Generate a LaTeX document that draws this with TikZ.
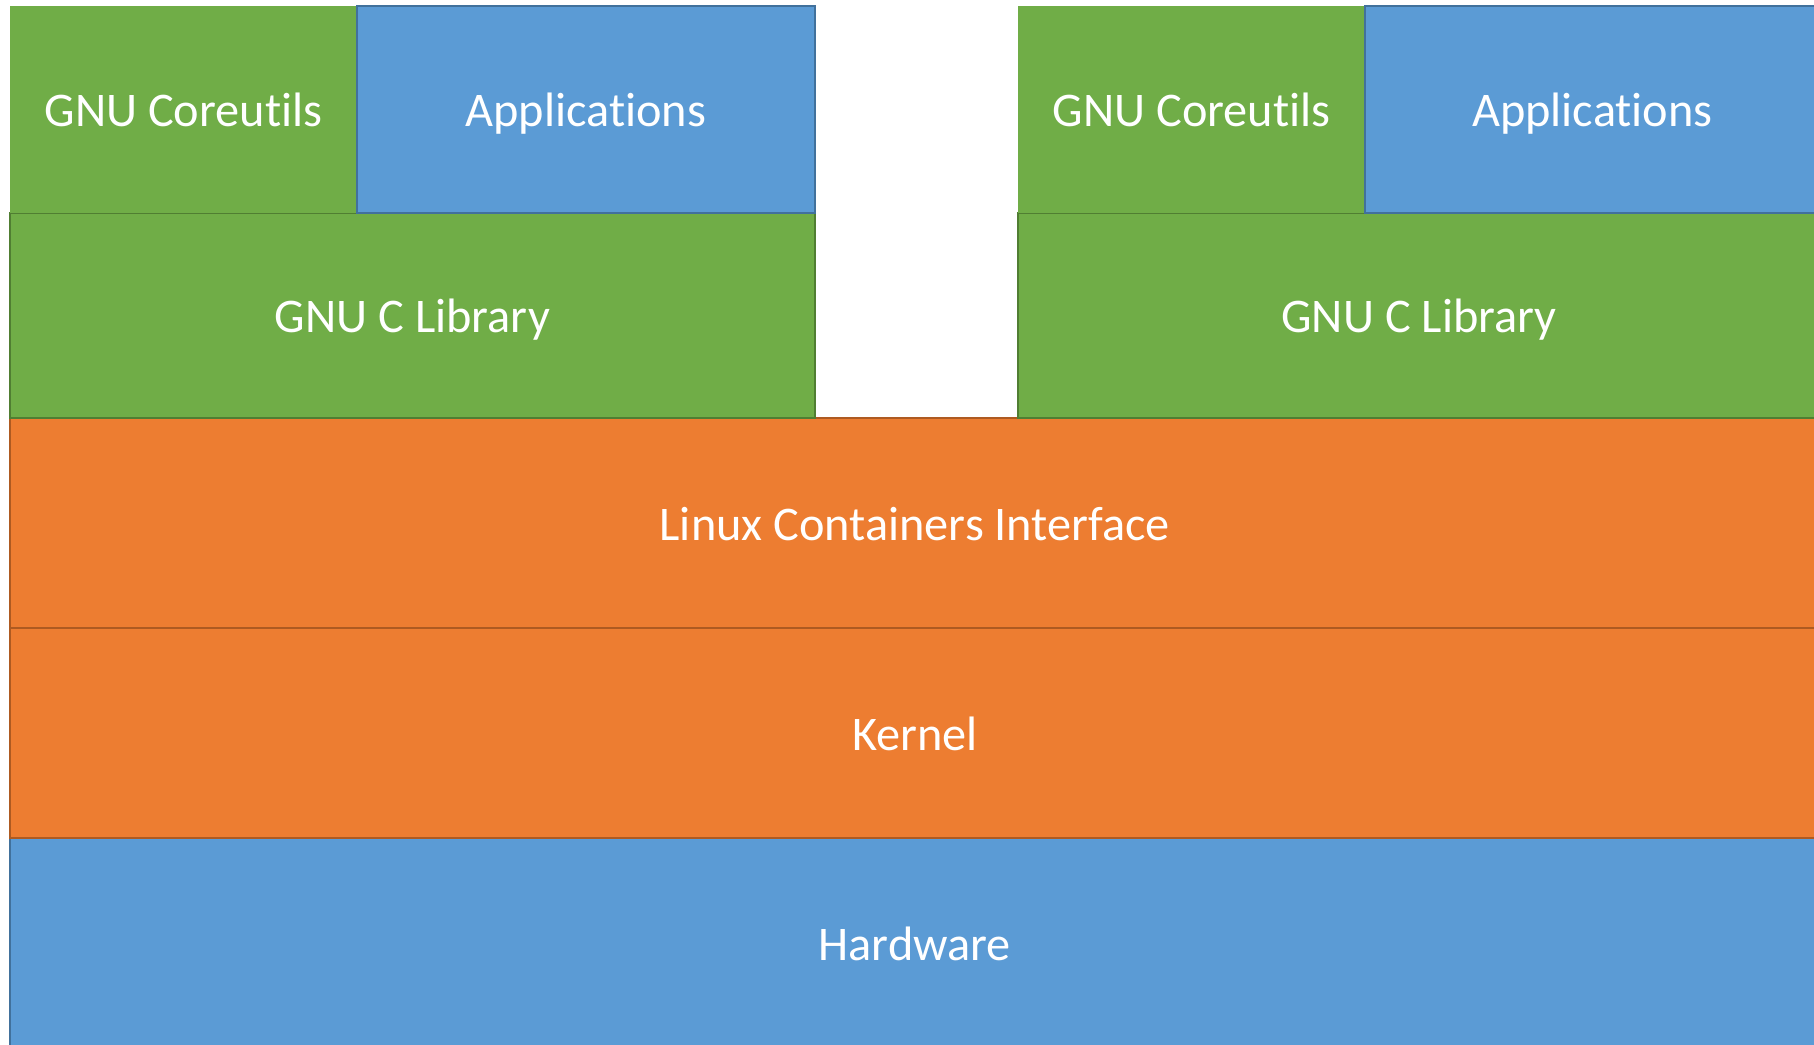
\documentclass[tikz,border=0pt]{standalone}
\usepackage{fontspec}
\setmainfont{Carlito}[Ligatures=NoCommon]
\usetikzlibrary{positioning}
\definecolor{gnugreen}{HTML}{70AD47}
\definecolor{gnugreenline}{HTML}{507E32}
\definecolor{appblue}{HTML}{5B9BD5}
\definecolor{appblueline}{HTML}{41719C}
\definecolor{kernorange}{HTML}{ED7D31}
\definecolor{kernorangeline}{HTML}{AE5A21}
\tikzset{
  layer/.style={rectangle, inner sep=0pt, outer sep=0pt, line width=0.9pt, text=white,
    text height=24pt, text depth=4.2pt, anchor=north west, font=\fontsize{27.5}{33}\selectfont},
  greenbox/.style={layer, fill=gnugreen, draw=gnugreenline},
  bluebox/.style={layer, fill=appblue, draw=appblueline},
  orangebox/.style={layer, fill=kernorange, draw=kernorangeline}
}

\begin{document}
\begin{tikzpicture}[x=0.02cm, y=-0.02cm]
  \useasboundingbox [fill=white] (0,0) rectangle (1814,1044);
  % shared layers
  \node [bluebox, minimum width=36.2cm, minimum height=4.2cm] (hw) at (10,838) {Hardware};
  \node [orangebox, minimum width=36.2cm, minimum height=4.2cm] (kernel) at (10,628) {Kernel};
  \node [orangebox, minimum width=36.2cm, minimum height=4.2cm] (lci) at (10,418) {Linux Containers Interface};
  % left container
  \node [greenbox, minimum width=16.1cm, minimum height=4.1cm] (libcA) at (10,213) {GNU C Library};
  \node [greenbox, draw=none, minimum width=6.94cm, minimum height=4.14cm] (coreA) at (10,6) {GNU Coreutils};
  \node [bluebox, minimum width=9.16cm, minimum height=4.14cm] (appsA) at (357,6) {Applications};
  % right container
  \node [greenbox, minimum width=16.04cm, minimum height=4.1cm] (libcB) at (1018,213) {GNU C Library};
  \node [greenbox, draw=none, minimum width=6.94cm, minimum height=4.14cm] (coreB) at (1018,6) {GNU Coreutils};
  \node [bluebox, minimum width=9.1cm, minimum height=4.14cm] (appsB) at (1365,6) {Applications};
\end{tikzpicture}
\end{document}
